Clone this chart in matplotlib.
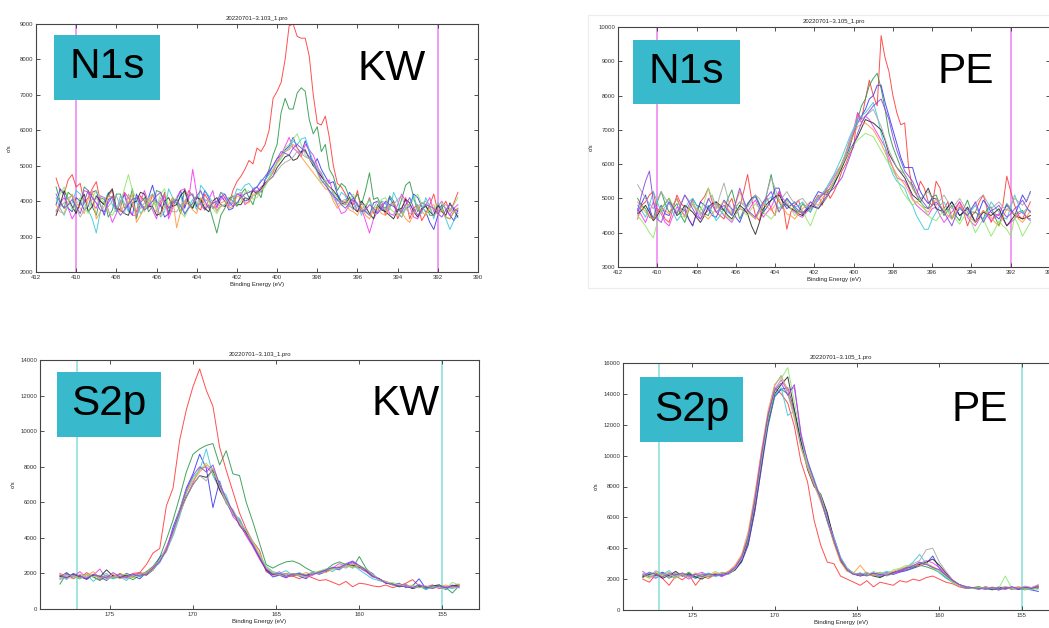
import matplotlib
matplotlib.use("Agg")
import matplotlib.pyplot as plt
from matplotlib.patches import Rectangle

plt.rcParams['font.family'] = ['Liberation Sans', 'DejaVu Sans']

# ---------------------------------------------------------------- energy grids
n1s_energy = [411.0, 410.8, 410.6, 410.4, 410.2, 410.0, 409.8, 409.6, 409.4, 409.2,
              409.0, 408.8, 408.6, 408.4, 408.2, 408.0, 407.8, 407.6, 407.4, 407.2,
              407.0, 406.8, 406.6, 406.4, 406.2, 406.0, 405.8, 405.6, 405.4, 405.2,
              405.0, 404.8, 404.6, 404.4, 404.2, 404.0, 403.8, 403.6, 403.4, 403.2,
              403.0, 402.8, 402.6, 402.4, 402.2, 402.0, 401.8, 401.6, 401.4, 401.2,
              401.0, 400.8, 400.6, 400.4, 400.2, 400.0, 399.8, 399.6, 399.4, 399.2,
              399.0, 398.8, 398.6, 398.4, 398.2, 398.0, 397.8, 397.6, 397.4, 397.2,
              397.0, 396.8, 396.6, 396.4, 396.2, 396.0, 395.8, 395.6, 395.4, 395.2,
              395.0, 394.8, 394.6, 394.4, 394.2, 394.0, 393.8, 393.6, 393.4, 393.2,
              393.0, 392.8, 392.6, 392.4, 392.2, 392.0, 391.8, 391.6, 391.4, 391.2,
              391.0]
s2p_energy = [178.0, 177.6, 177.2, 176.8, 176.4, 176.0, 175.6, 175.2, 174.8, 174.4,
              174.0, 173.6, 173.2, 172.8, 172.4, 172.0, 171.6, 171.2, 170.8, 170.4,
              170.0, 169.6, 169.2, 168.8, 168.4, 168.0, 167.6, 167.2, 166.8, 166.4,
              166.0, 165.6, 165.2, 164.8, 164.4, 164.0, 163.6, 163.2, 162.8, 162.4,
              162.0, 161.6, 161.2, 160.8, 160.4, 160.0, 159.6, 159.2, 158.8, 158.4,
              158.0, 157.6, 157.2, 156.8, 156.4, 156.0, 155.6, 155.2, 154.8, 154.4,
              154.0]

# ---------------------------------------------------------------- N1s, KW (c/s)
n1s_kw_counts = [
    [4650, 4300, 4200, 4600, 4750, 4400, 4500, 3950, 4100, 4350, 4550, 4000, 3900, 4150, 4300, 3700, 3800, 4250, 4100, 3850,
     3700, 4150, 4000, 3800, 4200, 3950, 3850, 4250, 3600, 3900, 4050, 3700, 3900, 4300, 4150, 3850, 3750, 4200, 4000, 3800,
     3950, 4250, 4100, 3900, 4300, 4550, 4700, 4900, 5150, 5050, 5500, 5400, 5600, 6000, 6900, 7100, 7350, 8000, 8950, 9000,
     8650, 8600, 8600, 8100, 7000, 6200, 6150, 6400, 5800, 5000, 4500, 4400, 4200, 4000, 3900, 4300, 3700, 3800, 4100, 3650,
     3800, 4000, 3600, 3850, 4000, 3500, 3750, 4100, 3500, 3800, 3900, 3450, 3650, 3900, 4200, 3700, 3800, 4000, 3700, 3950,
     4250],
    [4400, 4000, 3800, 4250, 4150, 3700, 3900, 4400, 4300, 3850, 3600, 4100, 4050, 3550, 3750, 4200, 4200, 3800, 3900, 4350,
     3500, 3950, 4100, 3700, 3850, 4300, 4250, 3900, 3700, 4100, 3950, 3650, 4350, 4000, 3800, 4150, 4000, 3750, 3900, 3500,
     3100, 3600, 3800, 4100, 4000, 3850, 4200, 4350, 4100, 3900, 4300, 4100, 4600, 4900, 5300, 5600, 6500, 6900, 6600, 6600,
     7050, 7200, 7100, 6300, 5900, 6100, 5400, 5600, 4900, 4700, 4300, 4500, 4400, 4100, 4000, 4200, 3900, 4300, 4800, 4050,
     4100, 3850, 3800, 4150, 4000, 3700, 4050, 4450, 4550, 4100, 3700, 3950, 3900, 3600, 3600, 3850, 3850, 3550, 3500, 3700,
     3800],
    [3900, 4350, 4200, 3800, 3700, 4100, 4000, 3750, 3850, 4250, 4300, 3900, 3600, 4050, 4100, 3700, 3950, 4200, 3750, 3600,
     4200, 3950, 3800, 4100, 4450, 4000, 3900, 3550, 3650, 4000, 4050, 4300, 3800, 4150, 4200, 3850, 3950, 4300, 4100, 3800,
     3850, 4150, 4000, 3750, 3800, 4200, 4150, 4000, 4050, 4350, 4400, 4250, 4600, 4800, 5000, 5200, 5300, 5450, 5550, 5800,
     5500, 5350, 5700, 5400, 5000, 5200, 4900, 4700, 4500, 4550, 4200, 4000, 3950, 4250, 4100, 3850, 3800, 3700, 3600, 3950,
     4000, 3800, 3700, 4100, 3900, 3650, 3550, 3800, 3850, 4200, 4100, 3850, 3700, 3400, 3200, 3600, 3900, 3800, 3600, 3450,
     3750],
    [3700, 3950, 4100, 3800, 3500, 3700, 3950, 4300, 4250, 3900, 3800, 4150, 4100, 3750, 3400, 3650, 4000, 4250, 3850, 3600,
     3600, 4000, 4300, 3950, 3750, 3500, 4000, 4150, 3500, 3800, 4100, 4300, 4350, 4050, 4900, 4200, 3900, 3750, 4050, 4300,
     3800, 4050, 4100, 3850, 3950, 4200, 4200, 3900, 4000, 4350, 4250, 4400, 4500, 4650, 4800, 5100, 5300, 5550, 5800, 5500,
     5400, 5250, 5600, 5450, 5300, 5000, 4700, 4550, 4600, 4200, 3900, 3650, 3700, 3900, 4000, 3700, 3800, 3450, 3100, 3500,
     3700, 3900, 3950, 3650, 3600, 3900, 4200, 4000, 3850, 3550, 3500, 3750, 3900, 4100, 3700, 3850, 4000, 3750, 3600, 3800,
     3900],
    [4100, 3800, 3600, 3900, 3950, 4300, 4200, 3950, 3750, 3500, 3100, 3700, 4000, 4250, 3900, 3700, 4150, 3950, 3700, 4100,
     4000, 3650, 3800, 4100, 4200, 3900, 3550, 3700, 4350, 4100, 3900, 4200, 3600, 3850, 4050, 3750, 4450, 4300, 4150, 3950,
     3950, 4250, 4200, 3900, 4000, 4350, 4300, 4450, 4500, 4350, 4400, 4600, 4600, 4750, 4900, 5100, 5200, 5400, 5500, 5700,
     5600, 5750, 5800, 5450, 5100, 4900, 4800, 4500, 4300, 4200, 4000, 4250, 4150, 3850, 3800, 3950, 3600, 3850, 4050, 3700,
     3700, 4000, 3950, 3750, 4250, 4000, 3650, 3800, 3900, 4150, 3800, 3650, 4100, 3850, 3500, 3950, 3750, 3500, 3200, 3450,
     3600],
    [3600, 3900, 4300, 4050, 3850, 3650, 4000, 4200, 3700, 3850, 4150, 4000, 3900, 4200, 4350, 3800, 3750, 3650, 3600, 3950,
     4000, 4250, 4200, 3850, 3850, 3600, 3650, 4000, 4100, 3850, 3900, 4150, 4300, 3900, 3800, 4100, 4050, 3800, 3700, 4000,
     4100, 3900, 3850, 4050, 4150, 3900, 3900, 4100, 4050, 4300, 4200, 4350, 4500, 4600, 4700, 4950, 5100, 5250, 5300, 5150,
     5200, 5400, 5450, 5200, 5000, 4850, 4700, 4550, 4400, 4300, 4150, 3950, 3900, 4100, 3800, 3700, 4000, 3850, 3650, 3500,
     3900, 3750, 3700, 3600, 3500, 3750, 3800, 4050, 3950, 3700, 3550, 3800, 3850, 3700, 3600, 3900, 3700, 3600, 3950, 3750,
     3550],
    [3900, 3700, 3650, 4000, 4200, 3950, 3800, 3650, 4050, 4300, 3500, 3700, 3850, 4150, 4100, 3800, 3700, 3900, 3950, 4200,
     3400, 3600, 3800, 4050, 4150, 3750, 3600, 3850, 3900, 4100, 3250, 3700, 4000, 3900, 3750, 3650, 4100, 3900, 3850, 4000,
     3700, 3950, 4000, 3800, 3850, 4150, 4100, 3950, 3950, 4200, 4200, 4300, 4450, 4650, 4850, 5100, 5300, 5400, 5450, 5600,
     5500, 5250, 5100, 4950, 4800, 4650, 4500, 4350, 4300, 4000, 3800, 3950, 4000, 3750, 3700, 3600, 3850, 3600, 3500, 3750,
     3800, 3650, 3600, 3900, 3950, 3750, 3700, 3500, 3400, 3650, 3850, 3700, 3600, 3850, 3900, 3600, 3750, 3550, 3500, 3700,
     3800],
    [4000, 4200, 4400, 4050, 3750, 3900, 4100, 3850, 3650, 4100, 4300, 4100, 3950, 3700, 3600, 3800, 3900, 4350, 4750, 4300,
     4050, 3850, 3700, 4000, 4000, 3850, 4200, 4350, 3800, 3950, 4100, 3700, 3550, 3800, 3900, 4150, 4250, 4050, 4000, 3800,
     3650, 3850, 3900, 4100, 4150, 3900, 4000, 4250, 4300, 4050, 4100, 4300, 4400, 4650, 4900, 5050, 5200, 5500, 5600, 5750,
     5900, 5600, 5300, 5200, 5050, 4800, 4500, 4600, 4400, 4250, 4100, 3900, 3900, 4050, 4200, 3850, 3750, 3900, 4000, 3800,
     3850, 4050, 4100, 3800, 3700, 3650, 3550, 3800, 3900, 4050, 4200, 3900, 3650, 3750, 3800, 3900, 3950, 3800, 3700, 3900,
     4100],
    [3750, 3850, 3950, 4100, 4150, 3800, 3550, 3750, 3900, 4050, 4100, 3900, 3700, 3850, 4000, 4150, 3850, 3650, 4200, 3950,
     3650, 3800, 3950, 4100, 3800, 3700, 4100, 3950, 3850, 3700, 3700, 3900, 4000, 4200, 4200, 3950, 3900, 4000, 4050, 3850,
     3750, 3850, 3900, 4050, 4100, 4200, 4250, 4100, 4000, 4150, 4200, 4300, 4450, 4600, 4700, 4850, 5000, 5100, 5150, 5250,
     5400, 5350, 5250, 5200, 5150, 4950, 4800, 4550, 4250, 4100, 3900, 4000, 4050, 3900, 3750, 3850, 3950, 3750, 3600, 3800,
     4000, 3850, 3750, 3900, 3900, 4050, 4150, 3800, 3650, 3700, 3850, 3950, 4000, 3800, 3600, 3700, 3850, 3900, 3800, 3700,
     3650],
    [4200, 3950, 3800, 3900, 4050, 3850, 3650, 4000, 4300, 4100, 3950, 3750, 3700, 3950, 4150, 3800, 3600, 3750, 3900, 4050,
     4100, 3900, 3750, 3850, 4000, 4150, 4250, 4000, 3800, 3950, 4050, 3850, 3650, 3800, 3950, 4150, 4300, 4000, 3800, 3950,
     4000, 4100, 4200, 4000, 3850, 3950, 4100, 4200, 4250, 4300, 4400, 4550, 4700, 4850, 5000, 5200, 5400, 5350, 5300, 5500,
     5600, 5500, 5400, 5250, 5100, 4850, 4600, 4450, 4300, 4150, 4050, 3900, 3800, 3950, 4100, 3900, 3700, 3750, 3900, 3800,
     3650, 3800, 4000, 3900, 3850, 3750, 3700, 3900, 4100, 3800, 3600, 3750, 3900, 3850, 3800, 3650, 3550, 3750, 3900, 3800,
     3700],
]

# ---------------------------------------------------------------- N1s, PE (c/s)
n1s_pe_counts = [
    [4400, 4800, 4900, 5100, 5200, 4600, 4650, 4400, 4300, 4700, 5100, 4850, 4750, 4400, 4200, 4600, 4900, 5050, 5300, 4900,
     4600, 4500, 4400, 4800, 5000, 4550, 4750, 5200, 5700, 5000, 4500, 4350, 4900, 5000, 4700, 4500, 5200, 4850, 4100, 4600,
     4800, 4950, 4500, 4700, 4700, 4900, 5100, 4800, 5300, 5000, 5200, 5450, 5800, 6000, 6300, 6500, 7500, 7300, 7900, 8450,
     8000, 7700, 9750, 9100, 8700, 8000, 7500, 7150, 7200, 5900, 5300, 5100, 5500, 5300, 4900, 4800, 5500, 5300, 4700, 4900,
     4400, 4700, 4900, 4600, 4200, 4500, 4600, 4900, 5100, 4700, 4300, 4550, 4500, 4800, 5650, 5200, 4800, 4500, 4400, 4650,
     4900],
    [5000, 4800, 4700, 4450, 4400, 4900, 5200, 4850, 4600, 4700, 4850, 4500, 4300, 4650, 5000, 4800, 4750, 4550, 4500, 4800,
     4900, 4700, 4650, 5000, 5250, 4800, 4400, 4650, 4800, 5000, 5100, 4850, 4550, 5200, 5700, 5100, 4900, 4700, 5000, 4850,
     4700, 4600, 4850, 4700, 4600, 4900, 5000, 5100, 5200, 5300, 5500, 5700, 6000, 6300, 6600, 6900, 7300, 7700, 7900, 8300,
     8500, 8650, 8200, 7600, 6900, 6500, 6200, 5900, 5700, 5500, 5400, 5100, 4900, 4750, 4700, 5050, 5100, 4800, 4500, 4650,
     4800, 4500, 4350, 4700, 4950, 4600, 4600, 4500, 4400, 4700, 4750, 4450, 4200, 4600, 4850, 4700, 4500, 4600, 4650, 4450,
     4400],
    [4600, 4850, 5100, 4700, 4400, 4600, 4800, 4550, 4500, 4800, 5000, 4700, 4650, 4400, 4200, 4550, 4900, 4800, 4700, 4500,
     4450, 4700, 4950, 4800, 4700, 4450, 4300, 4600, 4850, 5000, 5050, 4800, 4600, 4750, 4950, 5300, 5300, 4900, 4700, 4800,
     4900, 4750, 4600, 4650, 4750, 5000, 5200, 5150, 5100, 5300, 5450, 5650, 5900, 6200, 6500, 6900, 7200, 7400, 7600, 7900,
     8000, 8300, 8300, 7800, 7400, 7000, 6600, 6200, 5900, 5900, 5900, 5500, 5200, 5000, 4850, 5000, 5000, 4800, 4600, 4750,
     4900, 4700, 4500, 4600, 4700, 4500, 4300, 4650, 4950, 4800, 4600, 4500, 4400, 4600, 4800, 4650, 4500, 4800, 5100, 4900,
     5200],
    [4700, 4500, 4300, 4600, 4900, 4700, 4550, 4300, 4200, 4500, 4750, 4650, 4500, 4800, 4950, 4600, 4400, 4550, 4650, 4800,
     4850, 4650, 4500, 4400, 4300, 4550, 4700, 4650, 4600, 4800, 4950, 4700, 4450, 4600, 4750, 5000, 5200, 5000, 4850, 4700,
     4600, 4500, 4450, 4600, 4700, 4800, 4950, 5100, 5250, 5400, 5600, 5800, 6000, 6300, 6700, 7000, 7500, 7200, 7400, 7300,
     7100, 6900, 6700, 6500, 6200, 5900, 5600, 5550, 5500, 5300, 5000, 4800, 4700, 4600, 4500, 4700, 4750, 4500, 4300, 4450,
     4600, 4750, 4900, 4700, 4450, 4300, 4200, 4400, 4650, 4500, 4350, 4450, 4550, 4400, 4200, 4300, 4400, 4550, 4600, 4450,
     4350],
    [4800, 4650, 4450, 4800, 5200, 4900, 4600, 4750, 4900, 4600, 4350, 4500, 4700, 4900, 5000, 4800, 4550, 4650, 4800, 4600,
     4350, 4500, 4700, 4600, 4500, 4750, 4900, 4800, 4650, 4500, 4400, 4650, 4800, 4950, 5050, 4900, 4700, 4850, 5000, 4850,
     4750, 4800, 4900, 4750, 4600, 4800, 5000, 5150, 5300, 5500, 5700, 5950, 6200, 6500, 6800, 7050, 7300, 7400, 7500, 7650,
     7800, 7400, 6900, 6500, 6000, 5700, 5500, 5400, 5300, 5000, 4800, 4500, 4300, 4100, 4100, 4400, 4600, 4800, 4900, 4650,
     4400, 4550, 4700, 4600, 4500, 4650, 4800, 4550, 4350, 4600, 4900, 4750, 4600, 4450, 4400, 4750, 5100, 4800, 4550, 4700,
     4600],
    [4550, 4650, 4800, 4600, 4350, 4500, 4700, 4850, 5000, 4750, 4500, 4600, 4800, 4700, 4600, 4450, 4300, 4500, 4750, 4850,
     4900, 4800, 4650, 4500, 4400, 4600, 4800, 4700, 4550, 4200, 3950, 4300, 4700, 4850, 4950, 5050, 5100, 4900, 4800, 4700,
     4650, 4550, 4500, 4650, 4800, 4750, 4700, 4850, 5000, 5200, 5400, 5650, 5900, 6150, 6400, 6600, 6800, 7050, 7300, 7250,
     7200, 7100, 7000, 6700, 6300, 6100, 5900, 5750, 5600, 5350, 5100, 5000, 4900, 5100, 5300, 5000, 4700, 4650, 4600, 4750,
     4900, 4700, 4500, 4600, 4750, 4550, 4300, 4450, 4600, 4550, 4500, 4600, 4700, 4450, 4200, 4350, 4500, 4450, 4400, 4450,
     4500],
    [4900, 4750, 4600, 4500, 4400, 4600, 4750, 4650, 4550, 4800, 5000, 4700, 4450, 4650, 4850, 4700, 4600, 4500, 4400, 4550,
     4700, 4800, 4900, 4700, 4550, 4850, 5200, 4900, 4600, 4500, 4400, 4600, 4850, 4750, 4650, 4800, 4950, 4750, 4550, 4500,
     4400, 4550, 4700, 4800, 4900, 4850, 4800, 5000, 5150, 5300, 5500, 5750, 6050, 6300, 6600, 6850, 7100, 7150, 7200, 7100,
     7000, 6800, 6600, 6350, 6100, 5900, 5700, 5550, 5400, 5200, 4950, 4900, 4800, 4700, 4600, 4800, 5000, 4800, 4650, 4500,
     4400, 4600, 4800, 4650, 4500, 4400, 4300, 4500, 4650, 4550, 4450, 4300, 4200, 4450, 4700, 4600, 4550, 4400, 4300, 4450,
     4650],
    [4500, 4350, 4200, 4000, 3850, 4300, 4700, 4850, 5000, 4800, 4600, 4500, 4450, 4700, 4900, 4650, 4650, 4900, 5300, 5000,
     4800, 4650, 4550, 4450, 4350, 4550, 4750, 4600, 4500, 4700, 4850, 4700, 4600, 4500, 4400, 4550, 4700, 4800, 4950, 4700,
     4500, 4600, 4650, 4400, 4200, 4500, 4800, 4900, 5000, 5250, 5500, 5700, 5950, 6200, 6400, 6550, 6700, 6800, 6900, 6850,
     6800, 6600, 6400, 6200, 6000, 5800, 5600, 5300, 5100, 4950, 4800, 4900, 4950, 4700, 4500, 4400, 4350, 4500, 4700, 4600,
     4500, 4400, 4250, 4450, 4600, 4300, 4000, 4200, 4400, 4150, 3900, 4100, 4350, 4200, 4100, 3900, 4450, 4200, 3900, 4100,
     4300],
    [5400, 5200, 5000, 4850, 4700, 4950, 5200, 5000, 4850, 4700, 4600, 4850, 5100, 4950, 4800, 4650, 4500, 4750, 4950, 5100,
     4700, 5100, 5450, 5000, 4600, 4750, 4900, 4850, 4750, 4900, 5100, 5000, 4800, 5200, 5600, 5300, 4950, 5050, 5200, 5000,
     4850, 4950, 5000, 4850, 4700, 4900, 5050, 5150, 5250, 5450, 5650, 5850, 6000, 6350, 6700, 6950, 7200, 7300, 7400, 7500,
     7600, 7350, 7100, 6750, 6400, 6150, 5900, 5800, 5700, 5500, 5300, 5100, 5000, 5100, 5200, 5000, 4800, 4950, 5100, 4900,
     4700, 4850, 5000, 4800, 4600, 4700, 4850, 5000, 5100, 4900, 4700, 4800, 4900, 4750, 4650, 4800, 5000, 4900, 4800, 4950,
     5150],
    [4650, 5100, 5500, 5800, 4900, 4400, 4300, 4600, 4900, 4750, 4550, 4800, 5100, 4900, 4700, 4500, 4400, 4650, 5000, 4800,
     4600, 4700, 4800, 4650, 4500, 4900, 5300, 4950, 4650, 4550, 4450, 4700, 4900, 5050, 5200, 4900, 4600, 4800, 5000, 4850,
     4750, 4650, 4550, 4700, 4900, 4800, 4700, 4900, 5050, 5200, 5300, 5450, 5600, 5900, 6200, 6550, 6900, 7200, 7400, 7550,
     7700, 7800, 7900, 7600, 7300, 6800, 6400, 6100, 5800, 5650, 5500, 5250, 5000, 4850, 4700, 4800, 4900, 4750, 4600, 4400,
     4200, 4500, 4750, 4600, 4500, 4700, 4900, 4600, 4300, 4500, 4650, 4700, 4800, 4600, 4450, 4550, 4700, 4800, 4950, 4750,
     4600],
]

# ---------------------------------------------------------------- S2p, KW (c/s)
s2p_kw_counts = [
    [2000, 1750, 1900, 1700, 2050, 1800, 1650, 1900, 1750, 2000, 1850, 2000, 2050, 2500, 3150, 3400, 5800,
     6800, 9500, 11200, 12500, 13500, 12300, 11400, 9100, 7800, 6600, 5400, 4500, 3800, 3300, 2100, 1900,
     1950, 1800, 1850, 1700, 1900, 1750, 1600, 1650, 1500, 1350, 1550, 1250, 1450, 1400, 1300, 1250, 1350,
     1200, 1300, 1450, 1650, 1300, 1200, 1350, 1150, 1250, 1300, 1400],
    [1400, 2000, 1850, 1700, 1950, 1800, 1600, 1850, 1700, 1950, 1800, 1650, 1900, 2100, 2400, 2900, 3900,
     5000, 6300, 7700, 8700, 9000, 9200, 9300, 8100, 8900, 7600, 7500, 6000, 4900, 3700, 2500, 2300,
     2500, 2650, 2700, 2550, 2300, 2100, 2000, 2200, 2500, 2650, 2500, 2300, 2950, 2300, 1900, 1700, 1500,
     1400, 1300, 1350, 1200, 1300, 1100, 1250, 1350, 1200, 900, 1300],
    [1800, 2050, 1700, 1900, 1650, 1950, 1800, 1600, 1900, 1750, 2000, 1850, 1700, 2050, 2200, 2900, 3300,
     4600, 5600, 6800, 7600, 8700, 7900, 5700, 7200, 6000, 5300, 5000, 4200, 3600, 2900, 2200, 1800,
     1900, 1750, 2000, 1850, 1700, 2050, 1950, 2100, 2300, 2200, 2500, 2650, 2400, 2200, 2000, 1600, 1550,
     1350, 1450, 1200, 1300, 1700, 1150, 1300, 1250, 1100, 1350, 1200],
    [1700, 1950, 1800, 2100, 1750, 1900, 2250, 1700, 1850, 1950, 1750, 1900, 2050, 1950, 2350, 2700, 3500,
     4400, 5400, 6300, 7100, 7900, 8000, 7600, 6700, 6200, 5200, 4800, 4100, 3500, 2800, 2200, 1950,
     2100, 1800, 1900, 2000, 1750, 1900, 2100, 2200, 2300, 2550, 2400, 2600, 2300, 2100, 1800, 1700, 1450,
     1400, 1300, 1400, 1150, 1300, 1250, 1350, 1150, 1250, 1200, 1350],
    [1900, 1650, 2000, 1800, 1950, 1550, 1850, 2000, 1700, 1800, 1600, 1950, 1800, 2000, 2250, 2600, 3300,
     4100, 5200, 6500, 7400, 7800, 9000, 7500, 6800, 6400, 5300, 5100, 4300, 3700, 3000, 2400, 2100,
     2000, 2150, 1900, 2050, 1850, 2100, 2000, 2250, 2100, 2400, 2300, 2500, 2200, 1950, 1700, 1600, 1500,
     1350, 1250, 1300, 1200, 1400, 1100, 1250, 1350, 1200, 1150, 1250],
    [1850, 1750, 1950, 1800, 1700, 1900, 1800, 2200, 1850, 1750, 1900, 1800, 2000, 1900, 2200, 2750, 3300,
     4300, 5500, 6300, 7000, 7500, 7400, 7800, 6700, 6000, 5500, 4700, 4300, 3600, 2900, 2200, 1950,
     1900, 2000, 1850, 1950, 1900, 2000, 2100, 2150, 2300, 2350, 2500, 2450, 2350, 2150, 1850, 1700, 1450,
     1400, 1250, 1300, 1150, 1250, 1200, 1300, 1350, 1200, 1300, 1350],
    [2000, 1800, 1700, 1950, 1850, 2100, 1750, 1850, 1950, 1700, 1850, 1750, 2000, 2050, 2300, 2700, 3400,
     4200, 5400, 6600, 7200, 7700, 8100, 7900, 7000, 6100, 5400, 4800, 4200, 3700, 3000, 2300, 2050,
     1900, 2000, 1850, 1900, 2050, 1950, 2100, 2050, 2250, 2400, 2350, 2550, 2400, 2200, 1900, 1650, 1550,
     1350, 1400, 1250, 1300, 1200, 1300, 1150, 1250, 1350, 1200, 1300],
    [1750, 1900, 1850, 1700, 1950, 1800, 1900, 1650, 1800, 1900, 1950, 1800, 1850, 1950, 2200, 2800, 3350,
     4300, 5600, 6700, 7300, 7800, 8200, 7600, 7100, 6000, 5500, 4900, 4400, 3800, 3100, 2400, 2050,
     1950, 1850, 2000, 1900, 1800, 2000, 2150, 2250, 2200, 2400, 2500, 2300, 2450, 2250, 1950, 1650, 1500,
     1500, 1350, 1250, 1350, 1200, 1250, 1300, 1200, 1150, 1500, 1350],
    [1650, 1850, 1900, 1750, 1800, 1950, 1700, 1900, 1750, 1850, 1700, 1900, 1950, 2000, 2250, 2750, 3200,
     4200, 5300, 6300, 7000, 7500, 7200, 7900, 6900, 5900, 5600, 4900, 4400, 3700, 3000, 2300, 2000,
     1900, 1950, 2000, 1850, 1950, 2050, 2000, 2150, 2300, 2250, 2450, 2400, 2300, 2200, 1900, 1650, 1500,
     1400, 1300, 1350, 1200, 1200, 1250, 1200, 1300, 1250, 1250, 1200],
    [1900, 1750, 2000, 1850, 1700, 1950, 1850, 1750, 2050, 1800, 1800, 1950, 1850, 1950, 2300, 2650, 3350,
     4400, 5500, 6700, 7500, 8000, 7700, 8100, 7000, 6200, 5500, 4700, 4200, 3600, 2900, 2250, 1950,
     2000, 1850, 1950, 2000, 1850, 1950, 2050, 2200, 2350, 2300, 2550, 2700, 2450, 2200, 1850, 1700, 1450,
     1400, 1300, 1250, 1200, 1350, 1250, 1150, 1300, 1200, 1300, 1250],
]

# ---------------------------------------------------------------- S2p, PE (c/s)
s2p_pe_counts = [
    [2000, 1800, 2300, 2050, 1600, 2200, 1950, 2300, 1600, 2150, 2050, 2300, 2200, 2400, 2600, 3200, 4300,
     6400, 9200, 12500, 14400, 14000, 13400, 11900, 9600, 8300, 5800, 4200, 3100, 3000, 2200, 2000, 1800,
     1600, 1900, 1500, 1800, 1700, 1600, 1900, 1800, 2000, 1900, 2100, 2200, 2000, 1800, 1700, 1500, 1400,
     1450, 1350, 1500, 1400, 1300, 1450, 1350, 1500, 1400, 1450, 1550],
    [2100, 2350, 2200, 2400, 2050, 2300, 2200, 2450, 2100, 2350, 2150, 2300, 2250, 2450, 2700, 3200, 4500,
     6600, 9500, 12100, 13900, 14300, 14000, 12800, 10900, 9600, 8100, 7200, 5700, 4400, 3200, 2550, 2300,
     2400, 2250, 2350, 2150, 2300, 2400, 2500, 2600, 2750, 2900, 2800, 2650, 2450, 2100, 1800, 1600, 1450,
     1400, 1350, 1450, 1300, 1400, 1450, 1350, 1400, 1300, 1450, 1400],
    [2300, 2150, 2250, 2450, 2200, 2100, 2350, 2250, 2050, 2300, 2250, 2350, 2200, 2350, 2600, 3100, 4200,
     6400, 9200, 11900, 13800, 14300, 14400, 12900, 11000, 9500, 8300, 7300, 6100, 4700, 3400, 2700, 2350,
     2200, 2300, 2400, 2250, 2350, 2300, 2450, 2550, 2700, 2850, 3000, 3500, 2700, 2200, 1850, 1600, 1450,
     1400, 1450, 1350, 1400, 1300, 1450, 1400, 1350, 1450, 1300, 1200],
    [2500, 2200, 2050, 2350, 2150, 2400, 2250, 2000, 2300, 2450, 2200, 2350, 2150, 2500, 2800, 3500, 4800,
     7300, 10200, 12700, 14300, 14900, 14200, 14400, 11500, 9500, 8200, 7300, 5900, 4400, 3200, 2600, 2350,
     2200, 2400, 2250, 2300, 2450, 2350, 2500, 2650, 2900, 3000, 3200, 3050, 2750, 2300, 1900, 1650, 1500,
     1450, 1400, 1500, 1350, 1450, 1500, 1400, 1350, 1500, 1450, 1600],
    [2200, 2400, 2100, 2300, 2550, 2150, 2250, 2350, 2050, 2300, 2400, 2150, 2300, 2450, 2750, 3400, 4900,
     7100, 9900, 12200, 13900, 14400, 12600, 12900, 10800, 9600, 8500, 7200, 5800, 4700, 3400, 2700, 2400,
     2300, 2450, 2200, 2350, 2500, 2400, 2600, 2750, 3100, 3600, 3000, 2800, 2400, 2050, 1800, 1600, 1450,
     1400, 1500, 1350, 1400, 1500, 1350, 1450, 1400, 1350, 1300, 1450],
    [2150, 2300, 2400, 2050, 2250, 2500, 2200, 2350, 2150, 2000, 2300, 2250, 2400, 2350, 2600, 3200, 4500,
     6800, 9600, 12200, 14000, 14600, 15100, 13000, 10900, 9100, 8000, 7500, 6300, 4500, 3200, 2600, 2300,
     2250, 2350, 2200, 2100, 2300, 2450, 2550, 2750, 2800, 2950, 3100, 3300, 2900, 2400, 1950, 1650, 1500,
     1450, 1500, 1400, 1350, 1450, 1400, 1500, 1350, 1450, 1400, 1500],
    [2250, 2050, 2350, 2200, 2450, 2100, 2300, 2150, 2400, 2250, 2200, 2400, 2350, 2500, 2900, 3600, 5100,
     7500, 10300, 12900, 14600, 15100, 14300, 12600, 10500, 9200, 8100, 7000, 5800, 4300, 3100, 2500, 2400,
     2900, 2350, 2200, 2400, 2300, 2500, 2650, 2800, 2900, 2850, 3050, 2800, 2600, 2200, 1850, 1600, 1500,
     1400, 1450, 1350, 1500, 1400, 1350, 1450, 1500, 1400, 1350, 1500],
    [2300, 2100, 2500, 2200, 2350, 2050, 2400, 2200, 2300, 2100, 2250, 2500, 2300, 2400, 2700, 3300, 4600,
     6900, 9700, 12300, 14100, 15000, 15700, 13500, 11200, 9400, 8300, 7400, 5900, 4500, 3300, 2600, 2300,
     2400, 2250, 2500, 2350, 2300, 2600, 2700, 2900, 2800, 3100, 3000, 2700, 2500, 2200, 1800, 1600, 1550,
     1400, 1500, 1350, 1450, 1400, 2200, 1400, 1450, 1350, 1450, 1300],
    [2400, 2200, 2550, 2300, 2150, 2400, 2250, 2100, 2350, 2200, 2300, 2200, 2450, 2300, 2650, 3300, 4700,
     7000, 9800, 12600, 14500, 15200, 14000, 12400, 10600, 9300, 8200, 7100, 5900, 4600, 3300, 2700, 2350,
     2250, 2400, 2300, 2450, 2200, 2350, 2600, 2700, 3000, 3200, 3900, 4000, 3100, 2500, 1950, 1650, 1500,
     1450, 1350, 1500, 1400, 1350, 1500, 1450, 1400, 1550, 1450, 1650],
    [2200, 2450, 2300, 2150, 2350, 2250, 2400, 2200, 2300, 2150, 2350, 2250, 2300, 2400, 2750, 3400, 4700,
     7100, 10000, 12600, 14200, 14700, 13900, 14600, 11300, 9700, 8400, 7200, 5800, 4500, 3300, 2600, 2300,
     2350, 2200, 2400, 2300, 2250, 2400, 2550, 2700, 2850, 3100, 2950, 2750, 2600, 2250, 1900, 1650, 1500,
     1450, 1400, 1350, 1450, 1400, 1350, 1500, 1400, 1450, 1400, 1500],
]

trace_colors = ['#ff3c3c', '#2f9a4a', '#3c3cf0', '#f03cf0', '#3cc8dc',
                '#2a2a2a', '#ff9a3c', '#8ee86a', '#a8a8a8', '#8c46e6']

n1s_xticks = [412, 410, 408, 406, 404, 402, 400, 398, 396, 394, 392, 390]
s2p_xticks = [175, 170, 165, 160, 155]
n1s_markers = [410, 392]
s2p_markers = [177, 155]

FIG_W, FIG_H = 1049, 628
fig = plt.figure(figsize=(FIG_W / 100, FIG_H / 100), dpi=100)
fig.patch.set_facecolor('white')


def axes_px(left, top, right, bottom):
    return fig.add_axes([left / FIG_W, 1 - bottom / FIG_H,
                         (right - left) / FIG_W, (bottom - top) / FIG_H])


def draw_panel(rect, energy, counts, xlim, xticks, ylim, ystep, markers,
               marker_color, title):
    ax = axes_px(*rect)
    for trace, color in zip(counts, trace_colors):
        ax.plot(energy, trace, color=color, lw=0.7, alpha=0.9)
    for m in markers:
        ax.axvline(m, color=marker_color, lw=1.1, zorder=0.5)
    ax.set_xlim(*xlim)
    ax.set_ylim(*ylim)
    ax.set_xticks(xticks)
    ax.set_yticks(list(range(ylim[0], ylim[1] + 1, ystep)))
    ax.tick_params(direction='in', length=2.6, width=0.6, labelsize=4.3,
                   pad=2, top=True, right=True, colors='#333333')
    for s in ax.spines.values():
        s.set_color('#444444')
        s.set_linewidth(0.8)
    ax.set_title(title, fontsize=4.3, pad=3, color='#222222')
    ax.set_xlabel('Binding Energy (eV)', fontsize=4.3, color='#222222')
    ax.xaxis.set_label_coords(0.5, -0.052)
    ax.xaxis.label.set_va('center')
    ax.set_ylabel('c/s', fontsize=4.3, color='#222222')
    ax.yaxis.set_label_coords(-0.055, 0.5)
    return ax


# faint frame around the upper-right spectrum
fig.add_artist(Rectangle((588 / FIG_W, 1 - 288 / FIG_H), 470 / FIG_W, 273 / FIG_H,
                         transform=fig.transFigure, facecolor='none',
                         edgecolor='#ececec', lw=0.8, zorder=-1))

draw_panel((36, 24, 478, 272), n1s_energy, n1s_kw_counts, (412, 390), n1s_xticks,
           (2000, 9000), 1000, n1s_markers, '#f07ef0', '20220701~3.103_1.pro')
draw_panel((618, 27, 1050, 267), n1s_energy, n1s_pe_counts, (412, 390), n1s_xticks,
           (3000, 10000), 1000, n1s_markers, '#f07ef0', '20220701~3.105_1.pro')
draw_panel((40, 360, 479, 609), s2p_energy, s2p_kw_counts, (179.2, 152.8), s2p_xticks,
           (0, 14000), 2000, s2p_markers, '#86dede', '20220701~3.103_1.pro')
draw_panel((623, 363, 1058, 610), s2p_energy, s2p_pe_counts, (179.2, 152.8), s2p_xticks,
           (0, 16000), 2000, s2p_markers, '#86dede', '20220701~3.105_1.pro')

# Element tags and sample names
box_color = '#38b9cc'
tags = [((54, 35, 160, 100), 'N1s'), ((633, 40, 740, 104), 'N1s'),
        ((57, 372, 161, 437), 'S2p'), ((640, 377, 743, 442), 'S2p')]
for (l, t, r, b), label in tags:
    fig.add_artist(Rectangle((l / FIG_W, 1 - b / FIG_H), (r - l) / FIG_W, (b - t) / FIG_H,
                             transform=fig.transFigure, facecolor=box_color,
                             edgecolor='none', zorder=5))
    fig.text((l + r) / 2 / FIG_W, 1 - (t + b) / 2 / FIG_H, label, fontsize=30.5,
             ha='center', va='center', color='black', zorder=6)

samples = [((392, 69), 'KW'), ((966, 72), 'PE'), ((406, 404), 'KW'), ((980, 410), 'PE')]
for (x, y), label in samples:
    fig.text(x / FIG_W, 1 - y / FIG_H, label, fontsize=30.5, ha='center',
             va='center', color='black', zorder=6)

fig.savefig('out.png', dpi=100, facecolor='white')
